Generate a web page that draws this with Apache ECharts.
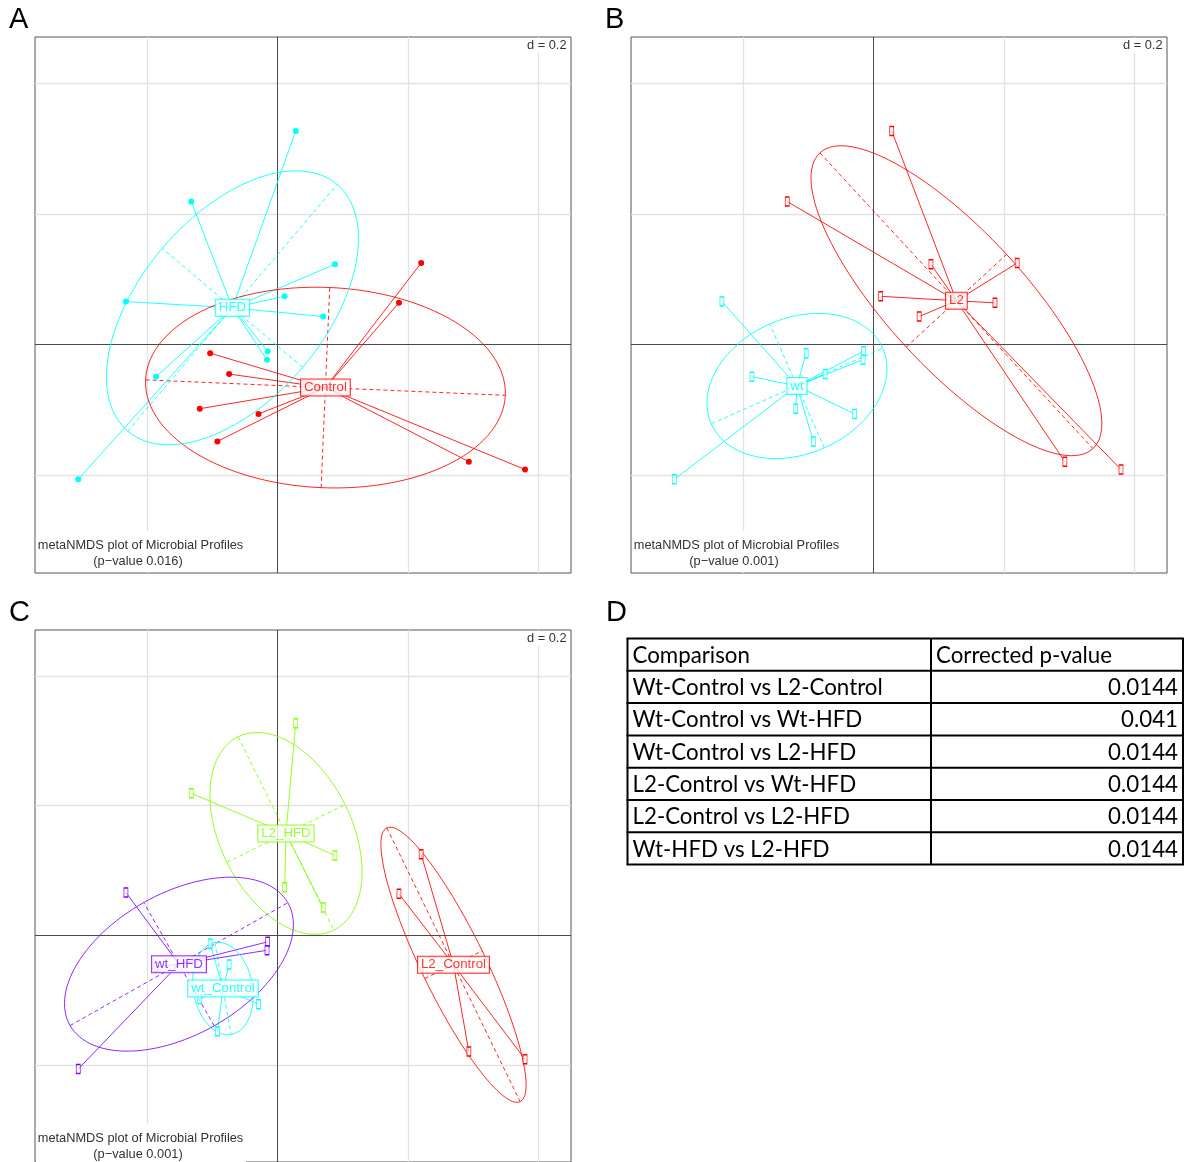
<!DOCTYPE html>
<html><head><meta charset="utf-8">
<script src="https://cdn.jsdelivr.net/npm/echarts@6/dist/echarts.min.js"></script>
<style>html,body{margin:0;padding:0;background:#fff}#c{width:1190px;height:1162px}</style>
</head><body><div id="c"></div>
<script>
// ---------- DATA ----------
// NMDS coordinates of the 19 samples (same ordination in panels A, B, C)
const sampleX = [0.028,-0.132,0.088,0.011,-0.232,0.070,-0.015,-0.016,-0.186,-0.305,
                 0.220,0.186,-0.103,-0.074,-0.119,-0.029,-0.092,0.293,0.379];
const sampleY = [0.327,0.219,0.123,0.074,0.066,0.043,-0.010,-0.023,-0.049,-0.206,
                 0.125,0.064,-0.013,-0.045,-0.098,-0.106,-0.148,-0.179,-0.191];
// grouping of each sample per panel
const groupsA = ['HFD','HFD','HFD','HFD','HFD','HFD','HFD','HFD','HFD','HFD',
                 'Control','Control','Control','Control','Control','Control','Control','Control','Control'];
const groupsB = ['L2','L2','L2','L2','wt','L2','wt','wt','wt','wt',
                 'L2','L2','wt','wt','wt','wt','wt','L2','L2'];
const groupsC = ['L2_HFD','L2_HFD','L2_HFD','L2_HFD','wt_HFD','L2_HFD','wt_HFD','wt_HFD','wt_HFD','wt_HFD',
                 'L2_Control','L2_Control','wt_Control','wt_Control','wt_Control','wt_Control','wt_Control','L2_Control','L2_Control'];
const levelsA = ['Control','HFD'];
const levelsB = ['L2','wt'];
const levelsC = ['L2_Control','L2_HFD','wt_Control','wt_HFD'];
const gridTicks = [-0.2, 0, 0.2, 0.4];
const panelPValues = ['0.016','0.001','0.001'];
const panelLetters = ['A','B','C'];
const subtitleText = 'metaNMDS plot of Microbial Profiles';
const scaleText = 'd = 0.2';
const tableHeader = ['Comparison','Corrected p-value'];
const comparisons = ['Wt-Control vs L2-Control','Wt-Control vs Wt-HFD','Wt-Control vs L2-HFD',
                     'L2-Control vs Wt-HFD','L2-Control vs L2-HFD','Wt-HFD vs L2-HFD'];
const correctedP = ['0.0144','0.041','0.0144','0.0144','0.0144','0.0144'];

// ---------- STYLE / LAYOUT ----------
const rainbow2 = ['#FF0000','#00FFFF'];
const rainbow4 = ['#FF0000','#80FF00','#00FFFF','#8000FF'];
const XLIM = [-0.3712, 0.4494], YLIM = [-0.3494, 0.4708];
const SIZE = 536;
const FONT = "'Liberation Sans', Arial, sans-serif";
const panels = [
  {left:35, top:37, groups:groupsA, levels:levelsA, colors:rainbow2, marker:'circle'},
  {left:631, top:37, groups:groupsB, levels:levelsB, colors:rainbow2, marker:'rect'},
  {left:35, top:630, groups:groupsC, levels:levelsC, colors:rainbow4, marker:'rect'}
];

function stats(xs, ys){
  const n = xs.length;
  const mx = xs.reduce((a,b)=>a+b,0)/n, my = ys.reduce((a,b)=>a+b,0)/n;
  let vx=0, vy=0, cxy=0;
  for(let i=0;i<n;i++){ vx+=(xs[i]-mx)**2; vy+=(ys[i]-my)**2; cxy+=(xs[i]-mx)*(ys[i]-my); }
  vx/=n; vy/=n; cxy/=n;
  const m=(vx+vy)/2, d=Math.sqrt(((vx-vy)/2)**2+cxy*cxy);
  const l1=m+d, l2=Math.max(m-d,0);
  const th=0.5*Math.atan2(2*cxy, vx-vy);
  const k=1.5;
  return {mx, my, a:k*Math.sqrt(l1), b:k*Math.sqrt(l2), th};
}

const grids=[], xAxes=[], yAxes=[], series=[], graphics=[];
panels.forEach((p, pi) => {
  grids.push({left:p.left, top:p.top, width:SIZE, height:SIZE, show:true,
              borderColor:'#555', borderWidth:1, backgroundColor:'transparent'});
  xAxes.push({gridIndex:pi, type:'value', min:XLIM[0], max:XLIM[1], show:false});
  yAxes.push({gridIndex:pi, type:'value', min:YLIM[0], max:YLIM[1], show:false});
  const base = {xAxisIndex:pi, yAxisIndex:pi, silent:true, animation:false};
  // grid lines
  const gl = [];
  gridTicks.forEach(t => {
    const col = t===0 ? '#4a4a4a' : '#e2e2e2';
    gl.push({coords:[[t,YLIM[0]],[t,YLIM[1]]], lineStyle:{color:col, width: t===0?1:1.3}});
    gl.push({coords:[[XLIM[0],t],[XLIM[1],t]], lineStyle:{color:col, width: t===0?1:1.3}});
  });
  gl.sort((a,b)=> (a.lineStyle.color==='#4a4a4a') - (b.lineStyle.color==='#4a4a4a'));
  series.push(Object.assign({type:'lines', coordinateSystem:'cartesian2d', z:0, data:gl,
              lineStyle:{opacity:1}}, base));

  p.levels.forEach((lev, li) => {
    const col = p.colors[li];
    const xs=[], ys=[];
    p.groups.forEach((g,i)=>{ if(g===lev){ xs.push(sampleX[i]); ys.push(sampleY[i]); } });
    const s = stats(xs, ys);
    // spokes
    series.push(Object.assign({type:'lines', coordinateSystem:'cartesian2d', z:3,
      lineStyle:{color:col, width:1, opacity:0.85},
      data: xs.map((x,i)=>({coords:[[x,ys[i]],[s.mx,s.my]]}))}, base));
    // ellipse
    const ell=[];
    for(let j=0;j<=120;j++){
      const t=j/120*2*Math.PI;
      ell.push([s.mx + s.a*Math.cos(t)*Math.cos(s.th) - s.b*Math.sin(t)*Math.sin(s.th),
                s.my + s.a*Math.cos(t)*Math.sin(s.th) + s.b*Math.sin(t)*Math.cos(s.th)]);
    }
    series.push(Object.assign({type:'line', z:4, data:ell, showSymbol:false, symbol:'none',
      lineStyle:{color:col, width:1, opacity:0.85}}, base));
    // ellipse axes (dashed)
    const ax = [
      {coords:[[s.mx - s.a*Math.cos(s.th), s.my - s.a*Math.sin(s.th)],[s.mx + s.a*Math.cos(s.th), s.my + s.a*Math.sin(s.th)]]},
      {coords:[[s.mx + s.b*Math.sin(s.th), s.my - s.b*Math.cos(s.th)],[s.mx - s.b*Math.sin(s.th), s.my + s.b*Math.cos(s.th)]]}
    ];
    series.push(Object.assign({type:'lines', coordinateSystem:'cartesian2d', z:3,
      lineStyle:{color:col, width:1, type:[4,3], opacity:0.85}, data:ax}, base));
    // points
    const pts = xs.map((x,i)=>[x,ys[i]]);
    if(p.marker==='circle'){
      series.push(Object.assign({type:'scatter', z:6, data:pts, symbol:'circle', symbolSize:6,
        itemStyle:{color:col, opacity:1}}, base));
    } else {
      series.push(Object.assign({type:'scatter', z:6, data:pts, symbol:'rect', symbolSize:[4,9],
        itemStyle:{color:'rgba(255,255,255,0.6)', borderColor:col, borderWidth:1, opacity:1}}, base));
    }
    // label at centroid
    series.push(Object.assign({type:'scatter', z:8, data:[[s.mx,s.my]], symbol:'rect', symbolSize:1,
      itemStyle:{color:'rgba(0,0,0,0)'},
      label:{show:true, position:'inside', formatter:lev, color:col, fontSize:13.3, fontFamily:FONT,
             backgroundColor:'#fff', borderColor:col, borderWidth:1, padding:[2,3,1,3], lineHeight:13}}, base));
  });

  // scale label "d = 0.2"
  graphics.push({type:'rect', z:1, silent:true, shape:{x:p.left+491, y:p.top+1, width:43.5, height:15},
                 style:{fill:'#fff'}});
  graphics.push({type:'text', z:2, silent:true, style:{text:scaleText, x:p.left+531.5, y:p.top+8,
                 font:'12.8px '+FONT, fill:'#333', textAlign:'right', textVerticalAlign:'middle',
                 align:'right', verticalAlign:'middle'}});
  // subtitle
  graphics.push({type:'rect', z:1, silent:true, shape:{x:p.left+1, y:p.top+494, width:210, height:40.5},
                 style:{fill:'#fff'}});
  graphics.push({type:'text', z:2, silent:true, style:{text:subtitleText, x:p.left+105.5, y:p.top+508,
                 font:'12.8px '+FONT, fill:'#333', textAlign:'center', textVerticalAlign:'middle',
                 align:'center', verticalAlign:'middle'}});
  graphics.push({type:'text', z:2, silent:true, style:{text:'(p\u2212value '+panelPValues[pi]+')', x:p.left+103, y:p.top+524,
                 font:'12.8px '+FONT, fill:'#333', textAlign:'center', textVerticalAlign:'middle',
                 align:'center', verticalAlign:'middle'}});
  // panel letter
  graphics.push({type:'text', z:2, silent:true, style:{text:panelLetters[pi], x:p.left-26, y:p.top-3,
                 font:'29px '+FONT, fill:'#000', textAlign:'left', textVerticalAlign:'bottom',
                 align:'left', verticalAlign:'bottom'}});
});

// ---------- TABLE (panel D) ----------
graphics.push({type:'text', z:2, silent:true, style:{text:'D', x:606, y:627,
               font:'29px '+FONT, fill:'#000', textAlign:'left', textVerticalAlign:'bottom',
               align:'left', verticalAlign:'bottom'}});
const TX0=627.5, TX1=1183, TXC=931, TY0=638.5, RH=32.3;
const TFONT = "22.3px Lato, 'Open Sans', sans-serif";
const rows = [tableHeader].concat(comparisons.map((c,i)=>[c, correctedP[i]]));
rows.forEach((r, i) => {
  const yc = TY0 + RH*i + RH/2 + 1;
  graphics.push({type:'text', z:2, silent:true, style:{text:r[0], x:TX0+5, y:yc, font:TFONT, fill:'#000',
                 textAlign:'left', textVerticalAlign:'middle', align:'left', verticalAlign:'middle'}});
  const right = i>0;
  graphics.push({type:'text', z:2, silent:true, style:{text:r[1], x: right? TX1-5 : TXC+5, y:yc, font:TFONT, fill:'#000',
                 textAlign: right?'right':'left', textVerticalAlign:'middle', align:right?'right':'left', verticalAlign:'middle'}});
});
for(let i=0;i<=rows.length;i++){
  const y = TY0 + RH*i;
  graphics.push({type:'line', z:3, silent:true, shape:{x1:TX0-1, y1:y, x2:TX1+1, y2:y}, style:{stroke:'#000', lineWidth:2}});
}
[TX0, TXC, TX1].forEach(x => {
  graphics.push({type:'line', z:3, silent:true, shape:{x1:x, y1:TY0, x2:x, y2:TY0+RH*rows.length}, style:{stroke:'#000', lineWidth:2}});
});

const chart = echarts.init(document.getElementById('c'), null, {renderer:'canvas'});
chart.setOption({
  animation:false,
  backgroundColor:'#fff',
  grid:grids, xAxis:xAxes, yAxis:yAxes, series:series, graphic:{elements:graphics}
});
</script></body></html>
